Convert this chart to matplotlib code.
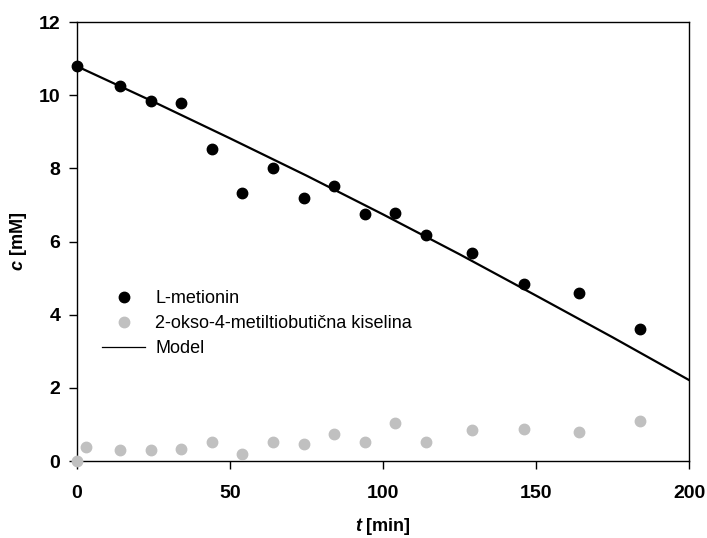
import matplotlib
matplotlib.use("Agg")
import matplotlib.pyplot as plt
from matplotlib.lines import Line2D

plt.rcParams['font.family'] = ['Liberation Sans', 'DejaVu Sans']
plt.rcParams['mathtext.fontset'] = 'custom'
plt.rcParams['mathtext.it'] = 'Liberation Sans:italic:bold'

# L-metionin
t_met = [0, 14, 24, 34, 44, 54, 64, 74, 84, 94, 104, 114, 129, 146, 164, 184]
c_met = [10.79, 10.25, 9.84, 9.78, 8.52, 7.33, 8.02, 7.20, 7.51, 6.76, 6.78, 6.18, 5.69, 4.84, 4.60, 3.61]

# 2-okso-4-metiltiobutična kiselina
t_keto = [0, 3, 14, 24, 34, 44, 54, 64, 74, 84, 94, 104, 114, 129, 146, 164, 184]
c_keto = [0.01, 0.38, 0.29, 0.29, 0.34, 0.52, 0.18, 0.51, 0.46, 0.75, 0.51, 1.05, 0.52, 0.86, 0.87, 0.80, 1.10]

# model curve
t_model = [0, 25, 50, 75, 100, 125, 150, 175, 200]
c_model = [10.79, 9.82, 8.82, 7.80, 6.74, 5.65, 4.52, 3.38, 2.21]

fig = plt.figure(figsize=(7.07, 5.38), dpi=100)
ax = fig.add_axes([0.109, 0.143, 0.866, 0.816])

ax.plot(t_model, c_model, color='black', lw=1.6, zorder=2)
ax.plot(t_met, c_met, 'o', color='black', ms=7.5, zorder=3, clip_on=False)
ax.plot(t_keto, c_keto, 'o', color='#c0c0c0', ms=7.5, zorder=3, clip_on=False)

ax.set_xlim(0, 200)
ax.set_ylim(0, 12)
ax.set_xticks([0, 50, 100, 150, 200])
ax.set_yticks([0, 2, 4, 6, 8, 10, 12])
ax.tick_params(direction='out', length=6, width=1, labelsize=14)
ax.tick_params(axis='x', pad=11)
ax.tick_params(axis='y', pad=6)
for lab in ax.get_xticklabels() + ax.get_yticklabels():
    lab.set_fontweight('bold')
for sp in ax.spines.values():
    sp.set_linewidth(1)

ax.set_xlabel(r'$\mathit{t}$ [min]', fontsize=13, fontweight='bold', labelpad=10)
ax.set_ylabel(r'$\mathit{c}$ [mM]', fontsize=13, fontweight='bold', labelpad=7)

handles = [
    Line2D([], [], ls='none', marker='o', color='black', ms=7.5),
    Line2D([], [], ls='none', marker='o', color='#c0c0c0', ms=7.5),
    Line2D([], [], color='black', lw=0.9),
]
labels = ['L-metionin', '2-okso-4-metiltiobutična kiselina', 'Model']
ax.legend(handles, labels, loc='upper left', bbox_to_anchor=(0.041, 0.39), frameon=False,
          fontsize=13, handlelength=2.4, handletextpad=0.55, labelspacing=0.45, borderaxespad=0,
          borderpad=0)

fig.savefig('out.png', dpi=100)
